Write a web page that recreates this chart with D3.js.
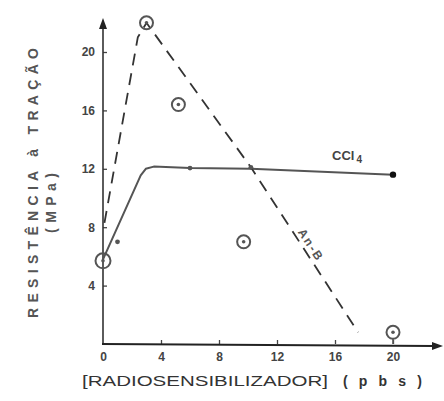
<!DOCTYPE html>
<html>
<head>
<meta charset="utf-8">
<script src="https://cdn.jsdelivr.net/npm/d3@7"></script>
<style>
  body { margin: 0; background: #fff; }
  text { font-family: "Liberation Sans", Arial, sans-serif; }
</style>
</head>
<body>
<svg id="chart"></svg>
<script>
  // values
  var xTicks = [0, 4, 8, 12, 16, 20];
  var yTicks = [4, 8, 12, 16, 20];

  // An-B: circled points and dashed trend line
  var anbPoints = [[0, 5.7], [3, 22], [5.2, 16.4], [9.7, 7.0], [20, 0.8]];
  var anbLine = [[0.1, 8.3], [2.4, 21], [3, 22], [10.2, 12.1], [17.6, 0.8]];

  // CCl4: small dots and solid curve
  var cclPoints = [[1, 7.0], [6, 12.05], [10.2, 12.1], [20, 11.6]];
  var cclLine = [[0, 5.8], [2.6, 11.55], [2.95, 12.0], [3.5, 12.15], [6, 12.05], [10.2, 12.0], [20, 11.6]];

  var width = 444;
  var height = 401;
  var svg = d3.select('#chart').attr('width', width).attr('height', height);

  var x = d3.scaleLinear().domain([0, 20]).range([103, 393]);
  var y = d3.scaleLinear().domain([0, 20]).range([344, 52]);

  // axes (ticks inward, own lines with arrows)
  var yAxis = svg.append('g').attr('transform', 'translate(' + x(0) + ',0)')
    .call(d3.axisLeft(y).tickValues(yTicks).tickSize(-4).tickPadding(8));
  var xAxis = svg.append('g').attr('transform', 'translate(0,' + y(0) + ')')
    .call(d3.axisBottom(x).tickValues(xTicks).tickSize(-4).tickPadding(8));
  [yAxis, xAxis].forEach((g) => {
    g.select('.domain').remove();
    g.selectAll('line').attr('stroke', '#444').attr('stroke-width', 1.3);
    g.selectAll('text').attr('fill', '#444').attr('font-size', 12)
      .attr('font-weight', 'bold');
  });
  xAxis.selectAll('.tick').filter((d) => d === 0).select('line').remove();

  svg.append('line')
    .attr('x1', x(0)).attr('y1', y(0) + 1).attr('x2', x(0)).attr('y2', 26)
    .attr('stroke', '#333').attr('stroke-width', 1.6);
  svg.append('path')
    .attr('d', 'M' + x(0) + ',18 l-4,11 l8,0 z').attr('fill', '#222');
  svg.append('line')
    .attr('x1', x(0) - 1).attr('y1', y(0)).attr('x2', 434).attr('y2', y(0) + 2)
    .attr('stroke', '#222').attr('stroke-width', 1.8);
  svg.append('path')
    .attr('d', 'M443,' + (y(0) + 2) + ' l-11,-4 l0,8 z').attr('fill', '#222');

  // CCl4 curve
  svg.append('path')
    .datum(cclLine)
    .attr('d', d3.line().x((d) => x(d[0])).y((d) => y(d[1])))
    .attr('fill', 'none').attr('stroke', '#555').attr('stroke-width', 2)
    .attr('stroke-linejoin', 'round');

  // An-B dashed line
  svg.append('path')
    .datum(anbLine)
    .attr('d', d3.line().x((d) => x(d[0])).y((d) => y(d[1])))
    .attr('fill', 'none').attr('stroke', '#333').attr('stroke-width', 1.8)
    .attr('stroke-dasharray', '12,8');

  // CCl4 dots
  svg.append('g').selectAll('circle').data(cclPoints)
    .enter().append('circle')
      .attr('cx', (d) => x(d[0])).attr('cy', (d) => y(d[1]))
      .attr('r', (d, i) => i === cclPoints.length - 1 ? 3.2 : 2.4)
      .attr('fill', (d, i) => i === cclPoints.length - 1 ? '#111' : '#555');

  // An-B circled points
  var marks = svg.append('g').selectAll('g').data(anbPoints)
    .enter().append('g')
      .attr('transform', (d) => 'translate(' + x(d[0]) + ',' + y(d[1]) + ')');
  marks.append('circle')
    .attr('r', (d, i) => i === 0 ? 7.5 : 6.5)
    .attr('fill', 'none').attr('stroke', '#555').attr('stroke-width', 2);
  marks.append('circle').attr('r', 1.8).attr('fill', '#555');
  // stem under the last point
  var last = anbPoints[anbPoints.length - 1];
  svg.append('line')
    .attr('x1', x(last[0])).attr('x2', x(last[0]))
    .attr('y1', y(last[1]) + 6.5).attr('y2', y(0))
    .attr('stroke', '#555').attr('stroke-width', 1.6);

  // series labels
  var ccl = svg.append('text').attr('x', 332).attr('y', 160)
    .attr('font-size', 13).attr('font-weight', 'bold').attr('fill', '#444');
  ccl.append('tspan').text('CCl');
  ccl.append('tspan').attr('font-size', 10).attr('dy', 3).attr('dx', 2).text('4');

  svg.append('text')
    .attr('transform', 'translate(311,245) rotate(57)')
    .attr('text-anchor', 'middle').attr('dy', '0.35em')
    .attr('font-size', 12).attr('font-weight', 'bold').attr('fill', '#555')
    .attr('letter-spacing', 2)
    .text('An-B');

  // axis titles
  svg.append('text')
    .attr('transform', 'translate(33,183) rotate(-90)')
    .attr('text-anchor', 'middle').attr('dy', '0.35em')
    .attr('font-size', 14).attr('font-weight', 'bold').attr('fill', '#555')
    .attr('textLength', 270).attr('lengthAdjust', 'spacing')
    .text('RESISTÊNCIA à TRAÇÃO');
  svg.append('text')
    .attr('transform', 'translate(51,203) rotate(-90)')
    .attr('text-anchor', 'middle').attr('dy', '0.35em')
    .attr('font-size', 14).attr('font-weight', 'bold').attr('fill', '#555')
    .attr('textLength', 60).attr('lengthAdjust', 'spacing')
    .text('(MPa)');

  svg.append('text')
    .attr('x', 82).attr('y', 386)
    .attr('font-size', 15).attr('fill', '#333')
    .attr('textLength', 246).attr('lengthAdjust', 'spacingAndGlyphs')
    .text('[RADIOSENSIBILIZADOR]');
  svg.append('text')
    .attr('x', 343).attr('y', 386)
    .attr('font-size', 14).attr('font-weight', 'bold').attr('fill', '#333')
    .attr('textLength', 79).attr('lengthAdjust', 'spacing')
    .text('(pbs)');
</script>
</body>
</html>
